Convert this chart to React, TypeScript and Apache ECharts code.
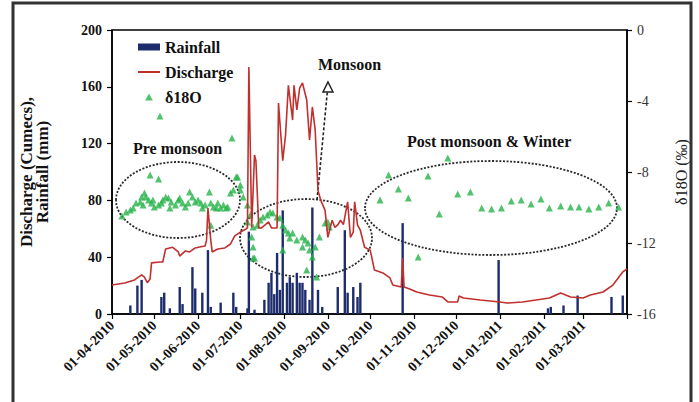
import React, { useEffect, useRef } from "react";
import * as echarts from "echarts";

// x values are days counted from 01-04-2010
const tickLabels = [
  "01-04-2010", "01-05-2010", "01-06-2010", "01-07-2010", "01-08-2010", "01-09-2010",
  "01-10-2010", "01-11-2010", "01-12-2010", "01-01-2011", "01-02-2011", "01-03-2011",
];
const monthStartDays = [0, 30, 61, 91, 122, 153, 183, 214, 244, 275, 306, 334];
const axisEndDay = 365;

const rainfallDays = [13, 18, 21, 35, 37, 41, 48, 50, 57, 59, 64, 68, 70, 77, 86, 88, 96, 97, 101, 108, 111, 113, 115, 117, 119, 121, 124, 126, 128, 131, 133, 135, 137, 140, 142, 146, 149, 160, 165, 167, 171, 174, 176, 206, 274, 309, 311, 320, 330, 354, 362];
const rainfallMm = [6, 20, 24, 12, 15, 4, 19, 7, 33, 18, 15, 45, 5, 8, 15, 5, 4, 58, 3, 10, 22, 29, 14, 43, 17, 73, 22, 26, 22, 29, 22, 22, 17, 10, 75, 17, 5, 19, 59, 15, 19, 12, 22, 64, 38, 4, 5, 6, 13, 12, 13];

const dischargeDays = [0, 9, 16, 21, 23, 25, 27, 28, 34, 36, 38, 43, 47, 48, 52, 55, 59, 62, 66, 67, 68, 70, 71, 75, 80, 84, 87, 91, 95, 96, 97, 99, 101, 102, 104, 106, 111, 113, 117, 118, 121, 123, 125, 128, 129, 131, 133, 135, 138, 140, 142, 144, 146, 148, 151, 153, 156, 158, 160, 162, 164, 167, 169, 171, 172, 174, 176, 179, 183, 186, 192, 197, 199, 205, 206, 207, 211, 216, 225, 234, 238, 245, 246, 249, 261, 275, 280, 291, 310, 318, 325, 334, 339, 348, 355, 362, 365];
const dischargeCumecs = [20.4, 21.8, 24, 27.5, 26, 22, 24.6, 36, 36.6, 36.6, 45.8, 47, 43.7, 40.8, 44.4, 43.7, 46.5, 47.2, 47.9, 52, 74.6, 52, 43.7, 45.8, 46.5, 49.3, 55, 57.7, 59.9, 60.6, 174, 61, 112, 108, 60.6, 60.6, 64.8, 60.6, 60.6, 148.6, 108, 126, 161, 136.6, 161, 143.7, 159, 162.7, 150.7, 122.5, 145.8, 129.6, 87, 80, 73, 54, 66, 61, 62.7, 66, 63, 79, 54, 57.7, 79, 62.7, 59, 47, 45, 31, 28.9, 25.4, 20.4, 19, 39.4, 19, 17.6, 15.5, 13.4, 12, 8.5, 8.5, 12.7, 11.3, 9.9, 8.5, 7.7, 8.5, 11.3, 14.8, 12, 11.3, 13.4, 15.5, 20.4, 29.6, 31.7];

const isoDays = [7, 10, 13, 15, 17, 20, 21, 22, 23, 24, 26, 27, 28, 29, 30, 33, 33, 34, 35, 36, 38, 40, 41, 42, 45, 47, 48, 50, 52, 54, 55, 57, 59, 61, 63, 64, 66, 69, 70, 70, 72, 74, 75, 77, 79, 81, 82, 84, 85, 86, 88, 91,
  89, 91, 93, 96, 96, 98, 99, 100, 100, 100, 101, 103, 105, 107, 110, 112, 114, 117, 119, 121, 121, 123, 125, 126, 128, 131, 135, 135, 137, 138, 139, 140, 142, 144, 145, 147, 151, 153, 154,
  190, 196, 203, 210, 217, 224, 232, 238, 245, 254, 262, 269, 276, 283, 290, 297, 304, 310, 318, 325, 331, 338, 345, 352, 359];
const isoDelta = [-10.48, -10.25, -10.14, -10.03, -9.75, -9.69, -9.41, -9.86, -9.18, -9.41, -9.58, -8.17, -9.75, -9.58, -9.97, -9.86, -8.39, -4.85, -9.75, -9.58, -9.41, -9.46, -10.03, -9.69, -9.86, -9.58, -9.46, -9.75, -9.97, -9.75, -9.13, -9.41, -9.69, -9.58, -9.75, -10.03, -9.86, -9.13, -9.75, -11.0, -9.97, -10.03, -9.75, -10.03, -9.86, -10.03, -9.97, -9.18, -6.08, -9.01, -8.28, -8.73,
  -8.28, -9.01, -9.41, -9.86, -10.82, -10.42, -11.66, -11.1, -12.23, -12.85, -12.85, -11.0, -10.7, -10.54, -10.42, -10.25, -10.31, -10.54, -10.59, -11.0, -12.39, -11.27, -11.44, -11.72, -11.44, -11.83, -11.66, -12.23, -11.83, -13.52, -12.0, -12.39, -12.79, -12.23, -13.92, -11.66, -10.87, -10.82, -11.1,
  -9.58, -8.17, -8.96, -9.46, -12.79, -8.23, -10.37, -7.21, -9.24, -9.13, -10.03, -10.08, -10.03, -9.63, -9.58, -9.8, -9.52, -10.03, -9.92, -9.97, -9.97, -10.08, -9.97, -9.75, -9.97];

const SERIF = "'Liberation Serif', 'DejaVu Serif', serif";
const NAVY = "#1d2c6c";
const RED = "#c0302e";
const GREEN = "#27b34a";

export default function App() {
  const ref = useRef<HTMLDivElement>(null);
  useEffect(() => {
    if (!ref.current) return;
    const chart = echarts.init(ref.current, null, { renderer: "svg" });
    const ellipseStyle = { fill: "none", stroke: "#2a2a2a", lineWidth: 1.8, lineDash: [2, 1.6] };
    chart.setOption({
      animation: false,
      backgroundColor: "#fff",
      textStyle: { fontFamily: SERIF },
      grid: { left: 112, right: 72, top: 30, bottom: 88, show: true, borderColor: "#000", borderWidth: 1.5, backgroundColor: "transparent" },
      legend: {
        orient: "vertical",
        left: 133,
        top: 34,
        itemGap: 9,
        itemWidth: 22,
        itemHeight: 7,
        textStyle: { fontFamily: SERIF, fontSize: 16, fontWeight: "bold", color: "#111" },
        data: [
          { name: "Rainfall", icon: "rect" },
          { name: "Discharge", icon: "path://M0,0 L22,0 L22,2 L0,2 Z" },
          { name: "δ18O", icon: "path://M5,0 L10,9 L0,9 Z" },
        ],
      },
      xAxis: {
        type: "value",
        min: 0,
        max: axisEndDay,
        axisLine: { lineStyle: { color: "#000", width: 1.5 } },
        axisTick: { customValues: [...monthStartDays, axisEndDay], length: 5, lineStyle: { color: "#000", width: 1.2 } },
        axisLabel: {
          customValues: monthStartDays,
          formatter: (v: number) => {
            const i = monthStartDays.indexOf(Math.round(v));
            return i >= 0 ? tickLabels[i] : "";
          },
          rotate: 45,
          margin: 9,
          fontFamily: SERIF,
          fontSize: 14,
          fontWeight: "bold",
          color: "#111",
        },
        splitLine: { show: false },
      },
      yAxis: [
        {
          type: "value",
          min: 0,
          max: 200,
          interval: 40,
          name: "Discharge (Cumecs),\nRainfall (mm)",
          nameLocation: "middle",
          nameRotate: 90,
          nameGap: 62,
          nameTextStyle: { fontFamily: SERIF, fontSize: 17, fontWeight: "bold", color: "#111", lineHeight: 16 },
          axisLine: { show: true, lineStyle: { color: "#000", width: 1.5 } },
          axisTick: { show: true, length: 5, lineStyle: { color: "#000", width: 1.2 } },
          axisLabel: { fontFamily: SERIF, fontSize: 14, fontWeight: "bold", color: "#111", margin: 10 },
          splitLine: { show: false },
        },
        {
          type: "value",
          min: -16,
          max: 0,
          interval: 4,
          position: "right",
          name: "δ18O (‰)",
          nameLocation: "middle",
          nameRotate: 90,
          nameGap: 46,
          nameTextStyle: { fontFamily: SERIF, fontSize: 16, color: "#222" },
          axisLine: { show: true, lineStyle: { color: "#000", width: 1.5 } },
          axisTick: { show: true, length: 5, lineStyle: { color: "#000", width: 1.2 } },
          axisLabel: { fontFamily: SERIF, fontSize: 14, color: "#333", margin: 10 },
          splitLine: { show: false },
        },
      ],
      series: [
        {
          name: "Rainfall",
          type: "bar",
          yAxisIndex: 0,
          barWidth: 2.4,
          itemStyle: { color: NAVY },
          data: rainfallDays.map((d, i) => [d, rainfallMm[i]]),
        },
        {
          name: "Discharge",
          type: "line",
          yAxisIndex: 0,
          symbol: "none",
          lineStyle: { color: RED, width: 1.6 },
          itemStyle: { color: RED },
          data: dischargeDays.map((d, i) => [d, dischargeCumecs[i]]),
        },
        {
          name: "δ18O",
          type: "scatter",
          yAxisIndex: 1,
          symbol: "triangle",
          symbolSize: 7,
          itemStyle: { color: GREEN },
          data: isoDays.map((d, i) => [d, isoDelta[i]]),
        },
      ],
      graphic: [
        { type: "rect", silent: true, shape: { x: 13, y: 3, width: 678, height: 420 }, style: { fill: "none", stroke: "#333", lineWidth: 3 } },
        { type: "ellipse", silent: true, shape: { cx: 178, cy: 200, rx: 62, ry: 38 }, style: ellipseStyle },
        { type: "ellipse", silent: true, shape: { cx: 306, cy: 238, rx: 66, ry: 39 }, style: ellipseStyle },
        { type: "ellipse", silent: true, shape: { cx: 491, cy: 208, rx: 126, ry: 47 }, style: ellipseStyle },
        { type: "line", silent: true, shape: { x1: 317, y1: 200, x2: 327.5, y2: 90 }, style: { stroke: "#222", lineWidth: 1.6, lineDash: [3, 2] } },
        { type: "polygon", silent: true, shape: { points: [[328, 82], [333, 92], [323, 92]] }, style: { fill: "#fff", stroke: "#222", lineWidth: 1.5 } },
        { type: "text", silent: true, x: 133, y: 148, style: { text: "Pre monsoon", font: `bold 16px ${SERIF}`, fill: "#111", verticalAlign: "middle" } },
        { type: "text", silent: true, x: 318, y: 64, style: { text: "Monsoon", font: `bold 16px ${SERIF}`, fill: "#111", verticalAlign: "middle" } },
        { type: "text", silent: true, x: 407, y: 141, style: { text: "Post monsoon & Winter", font: `bold 16px ${SERIF}`, fill: "#111", verticalAlign: "middle" } },
      ],
    });
    return () => chart.dispose();
  }, []);
  return <div ref={ref} style={{ position: "fixed", left: 0, top: 0, width: 699, height: 402 }} />;
}
